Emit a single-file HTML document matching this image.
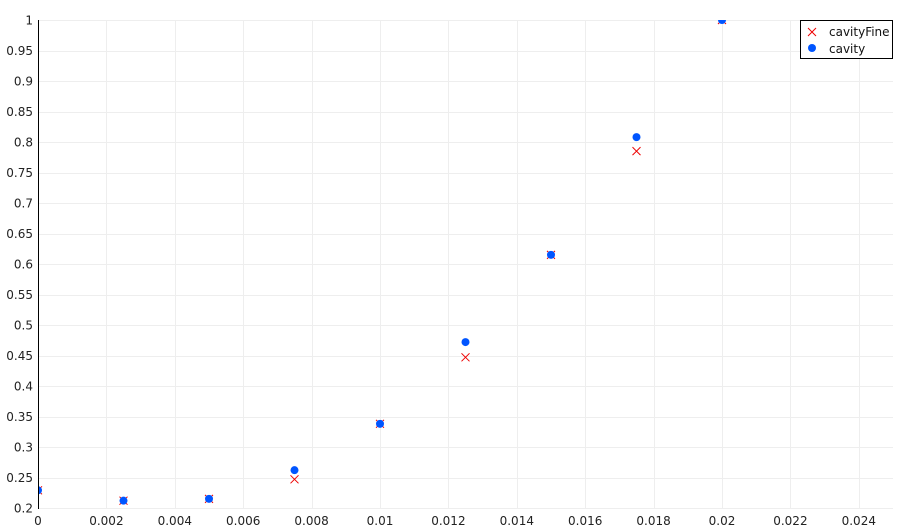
<!DOCTYPE html>
<html><head><meta charset="utf-8"><style>
body{margin:0;background:#fff;}
svg{display:block;font-family:"DejaVu Sans","Liberation Sans",sans-serif;}
</style></head><body>
<svg id="chart" width="913" height="532" viewBox="0 0 913 532">
<defs><clipPath id="pc"><rect x="38" y="20" width="855" height="488"/></clipPath></defs>
<g id="grid"></g>
<g id="marks" clip-path="url(#pc)"></g>
<g id="axes"></g>
<g>
<rect x="800.5" y="20.5" width="92" height="38" fill="#fff" stroke="#000" stroke-width="1"/>
<g>
<path d="M808 28 L816 36 M816 28 L808 36" stroke="#e00" stroke-width="1"/>
<text x="829" y="36" font-size="12" fill="#111">cavityFine</text></g>
<g>
<circle cx="812" cy="48" r="4" fill="#0055ff"/>
<text x="829" y="53" font-size="12" fill="#111">cavity</text></g>
</g>
</svg>
<script>
const xValues=[0,0.0025,0.005,0.0075,0.01,0.0125,0.015,0.0175,0.02];
const cavity=[0.229,0.212,0.215,0.262,0.338,0.472,0.615,0.808,1.0];
const cavityFine=[0.229,0.212,0.215,0.247,0.338,0.447,0.615,0.785,1.0];
const xTicks=[0,0.002,0.004,0.006,0.008,0.01,0.012,0.014,0.016,0.018,0.02,0.022,0.024];
const yTicks=[0.2,0.25,0.3,0.35,0.4,0.45,0.5,0.55,0.6,0.65,0.7,0.75,0.8,0.85,0.9,0.95,1];
const NS="http://www.w3.org/2000/svg";
const X0=38,X1=893,Y0=508,Y1=20;
function sx(v){return X0+(v-0)/0.025*(X1-X0);}
function sy(v){return Y0-(v-0.2)/0.8*(Y0-Y1);}
function mk(tag,attrs,parent){const e=document.createElementNS(NS,tag);for(const k in attrs)e.setAttribute(k,attrs[k]);parent.appendChild(e);return e;}
const grid=document.getElementById('grid'),axes=document.getElementById('axes'),marks=document.getElementById('marks');
xTicks.forEach(t=>{const x=Math.round(sx(t))+0.5;
 const l=mk('line',{x1:x,x2:x,y1:Y1,y2:Y0,stroke:'#eeeeee'},grid);
 
 
 const tx=mk('text',{x:sx(t),y:525,'font-size':12,'text-anchor':'middle',fill:'#222'},axes);
 tx.textContent=String(t);
 
 
});
yTicks.forEach(t=>{const y=Math.round(sy(t))+0.5;
 const l=mk('line',{x1:X0,x2:X1,y1:y,y2:y,stroke:'#eeeeee'},grid);
 
 
 const tx=mk('text',{x:33,y:sy(t)+4.5,'font-size':12,'text-anchor':'end',fill:'#222'},axes);
 tx.textContent=String(t);
 
 
});
const ya=mk('line',{x1:X0+0.5,x2:X0+0.5,y1:Y1,y2:Y0+1,stroke:'#000'},axes);


xValues.forEach((v,i)=>{const x=sx(v),y=sy(cavityFine[i]);
 const p=mk('path',{d:`M${x-4} ${y-4} L${x+4} ${y+4} M${x+4} ${y-4} L${x-4} ${y+4}`,stroke:'#e00','stroke-width':1},marks);
 
 
});
xValues.forEach((v,i)=>{
 const c=mk('circle',{cx:sx(v),cy:sy(cavity[i]),r:4,fill:'#0055ff'},marks);
 
 
});
</script>
</body></html>
